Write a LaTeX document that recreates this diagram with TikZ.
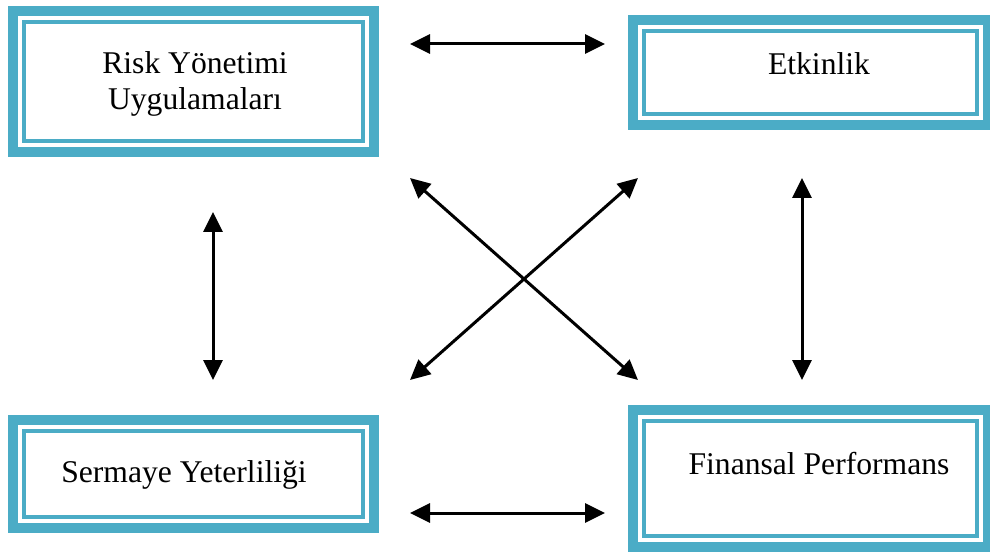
\documentclass[tikz,border=0pt]{standalone}
\usepackage{fontspec}
\setmainfont{Liberation Serif}
\usepackage{tikz}
\usetikzlibrary{arrows.meta, positioning}
\definecolor{boxblue}{HTML}{4BACC6}
\tikzset{
  framebox/.style={draw=boxblue, line width=0.2cm, inner sep=0pt,
    path picture={\draw[boxblue, line width=0.07cm]
      ([shift={(0.22cm,0.22cm)}]path picture bounding box.south west) rectangle
      ([shift={(-0.22cm,-0.22cm)}]path picture bounding box.north east);}},
  boxtext/.style={anchor=base, align=center, inner sep=0pt,
    font=\fontsize{18pt}{21pt}\selectfont},
  link/.style={line width=0.06cm, {Triangle[length=0.4cm,width=0.38cm]}-{Triangle[length=0.4cm,width=0.38cm]}}
}

\begin{document}
\begin{tikzpicture}[x=0.02cm, y=-0.02cm]
\useasboundingbox (0,0) rectangle (990,553);
\node[framebox, minimum width=7.22cm, minimum height=2.82cm] (risk) at (193.5,81.5) {};
\node[framebox, minimum width=7.1cm, minimum height=2.1cm] (etkinlik) at (810.5,72.5) {};
\node[framebox, minimum width=7.22cm, minimum height=2.16cm] (sermaye) at (193.5,474) {};
\node[framebox, minimum width=7.1cm, minimum height=2.74cm] (finansal) at (810.5,478.5) {};
\node[boxtext] (risktext) at (195,110) {Risk Yönetimi\\Uygulamaları};
\node[boxtext] (etktext) at (819,75) {Etkinlik};
\node[boxtext] (sermtext) at (184,482) {Sermaye Yeterliliği};
\node[boxtext] (fintext) at (819,475) {Finansal Performans};
\coordinate (topl) at (410,44);
\coordinate (topr) at (605,44);
\coordinate (botl) at (410,513);
\coordinate (botr) at (605,513);
\coordinate (leftu) at (213,212);
\coordinate (leftd) at (213,380);
\coordinate (rightu) at (802,178);
\coordinate (rightd) at (802,380);
\coordinate (crossul) at (410,178);
\coordinate (crossur) at (638,178);
\coordinate (crossdl) at (410,380);
\coordinate (crossdr) at (638,380);
\draw[link] (topl) -- (topr);
\draw[link] (botl) -- (botr);
\draw[link] (leftu) -- (leftd);
\draw[link] (rightu) -- (rightd);
\draw[link] (crossul) -- (crossdr);
\draw[link] (crossur) -- (crossdl);
\end{tikzpicture}
\end{document}
